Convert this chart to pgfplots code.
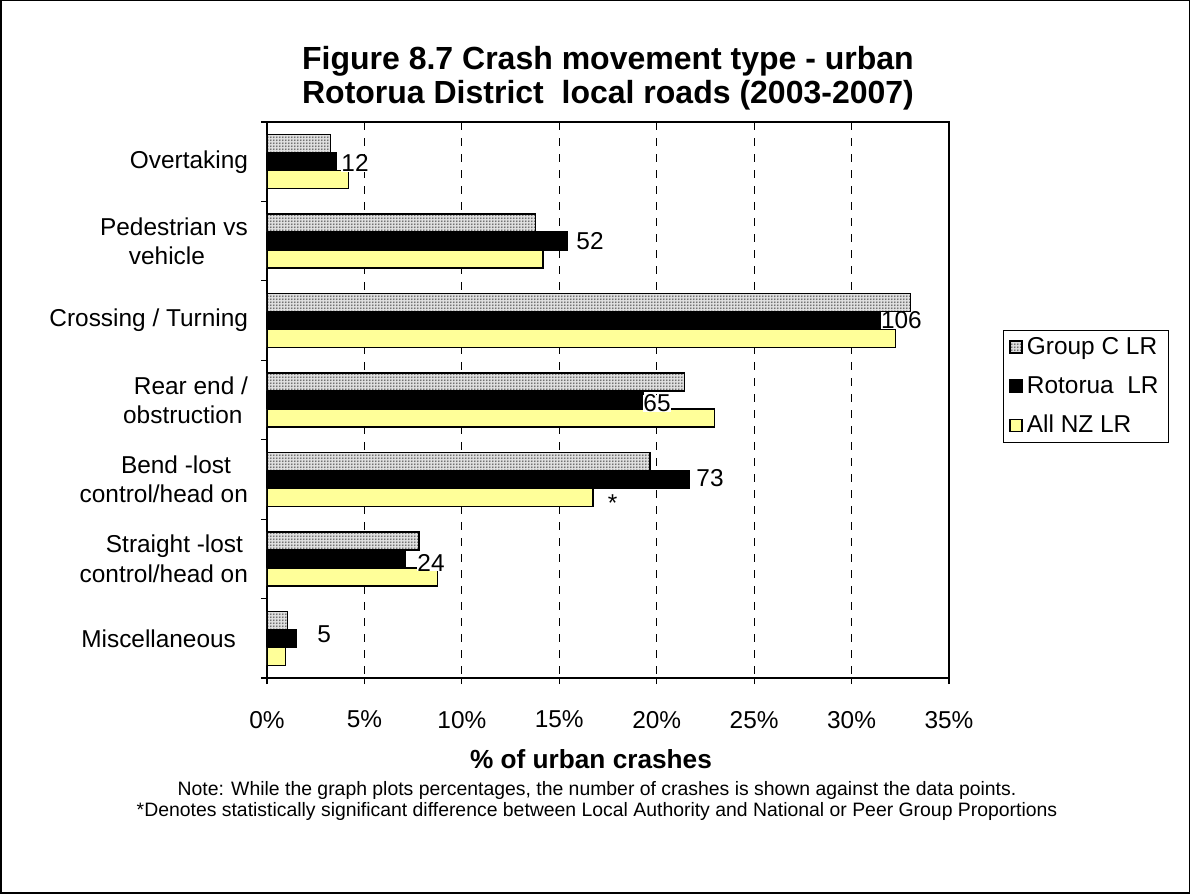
\documentclass[border=0pt]{standalone}
\usepackage{fontspec}
\setmainfont{Liberation Sans}
\usepackage{pgfplots}
\pgfplotsset{compat=1.18}
\usetikzlibrary{patterns}
\pgfdeclarepatternformonly{finedots}{\pgfqpoint{-0.5pt}{-0.5pt}}{\pgfqpoint{1.5pt}{1.5pt}}{\pgfqpoint{1.5pt}{1.5pt}}{\pgfpathcircle{\pgfqpoint{0.4pt}{0.4pt}}{0.45pt}\pgfusepath{fill}}
\definecolor{nzyellow}{HTML}{FFFF99}
\newcommand{\lbl}{\fontsize{12.2}{14.6}\selectfont}
\begin{document}
\begin{tikzpicture}
\draw[line width=0.75pt] (0.375pt,0.375pt) rectangle (594.625pt,446.625pt);
\begin{axis}[
  at={(133.5pt,108pt)}, anchor=south west,
  scale only axis, width=341pt, height=278pt,
  xmin=0, xmax=35, ymin=-0.5, ymax=6.5, y dir=reverse,
  xtick={0,5,...,35},
  xticklabels={0\%,5\%,10\%,15\%,20\%,25\%,30\%,35\%},
  ytick={0,...,6},
  yticklabels={Overtaking,{Pedestrian vs\\vehicle\kern21.5pt},Crossing / Turning,{Rear end /\\obstruction\kern2.7pt},{Bend -lost\kern8.5pt\\control/head on},{Straight -lost\kern2.5pt\\control/head on},Miscellaneous\kern6pt},
  minor ytick={-0.5,0.5,...,6.5},
  major y tick style={draw=none},
  xtick pos=bottom, ytick pos=left,
  tick align=outside, major tick length=3pt, minor tick length=3pt,
  tick style={black, line width=0.6pt},
  axis line style={black, line width=0.6pt},
  xmajorgrids, major grid style={black, line width=0.5pt, dash pattern=on 4pt off 4pt},
  xticklabel style={font=\lbl, yshift=-10pt},
  yticklabel style={font=\lbl, align=right, xshift=-3pt},
  legend style={at={(1.079,0.6266)}, anchor=north west, draw=black, line width=0.6pt, font=\lbl, row sep=5.5pt, inner xsep=3pt, inner ysep=1.5pt},
  legend cell align=left,
  legend image code/.code={\draw[#1, line width=0.75pt] (0pt,-3pt) rectangle (6pt,3pt);},
]
\addplot[xbar, bar width=9pt, bar shift=9pt, draw=black, line width=0.75pt, fill=black!12, postaction={pattern=finedots, pattern color=black!60}]
  coordinates {(3.27,0) (13.77,1) (33.02,2) (21.43,3) (19.65,4) (7.80,5) (1.06,6)};
\addlegendentry{Group C LR}
\addplot[xbar, bar width=9pt, bar shift=0pt, draw=black, line width=0.75pt, fill=black]
  coordinates {(3.56,0) (15.43,1) (31.45,2) (19.29,3) (21.66,4) (7.12,5) (1.48,6)};
\addlegendentry{Rotorua\ \ LR}
\addplot[xbar, bar width=9pt, bar shift=-9pt, draw=black, line width=0.75pt, fill=nzyellow]
  coordinates {(4.17,0) (14.17,1) (32.25,2) (22.96,3) (16.72,4) (8.75,5) (0.96,6)};
\addlegendentry{All NZ LR}
\addplot[draw=none, mark=none, forget plot, nodes near coords, point meta=explicit symbolic,
  nodes near coords style={anchor=west, inner sep=0pt, fill=white, font=\lbl}]
  table[meta=lab] {
x y lab
3.80 0.02 12
15.86 1.00 52
31.49 2.00 106
19.30 3.04 65
22.02 3.98 73
7.70 5.05 24
2.57 5.95 5
};
\addplot[draw=none, mark=none, forget plot, nodes near coords, point meta=explicit symbolic,
  nodes near coords style={anchor=base, inner sep=0pt, font=\lbl}]
  table[meta=lab] {
x y lab
17.74 4.408 *
};
\end{axis}
\node[anchor=base, font=\fontsize{16}{19}\selectfont\bfseries] at (304pt,412.25pt) {Figure 8.7 Crash movement type - urban};
\node[anchor=base, font=\fontsize{16}{19}\selectfont\bfseries] at (304pt,395.25pt) {Rotorua District\ \ local roads (2003-2007)};
\node[anchor=base, font=\fontsize{13.1}{15.5}\selectfont\bfseries] at (295.5pt,62.5pt) {\% of urban crashes};
\node[anchor=base, font=\fontsize{9.7}{11}\selectfont] at (298.5pt,49pt) {Note: While the graph plots percentages, the number of crashes is shown against the data points.};
\node[anchor=base, font=\fontsize{9.7}{11}\selectfont] at (298.5pt,38.5pt) {*Denotes statistically significant difference between Local Authority and National or Peer Group Proportions};
\end{tikzpicture}
\end{document}
